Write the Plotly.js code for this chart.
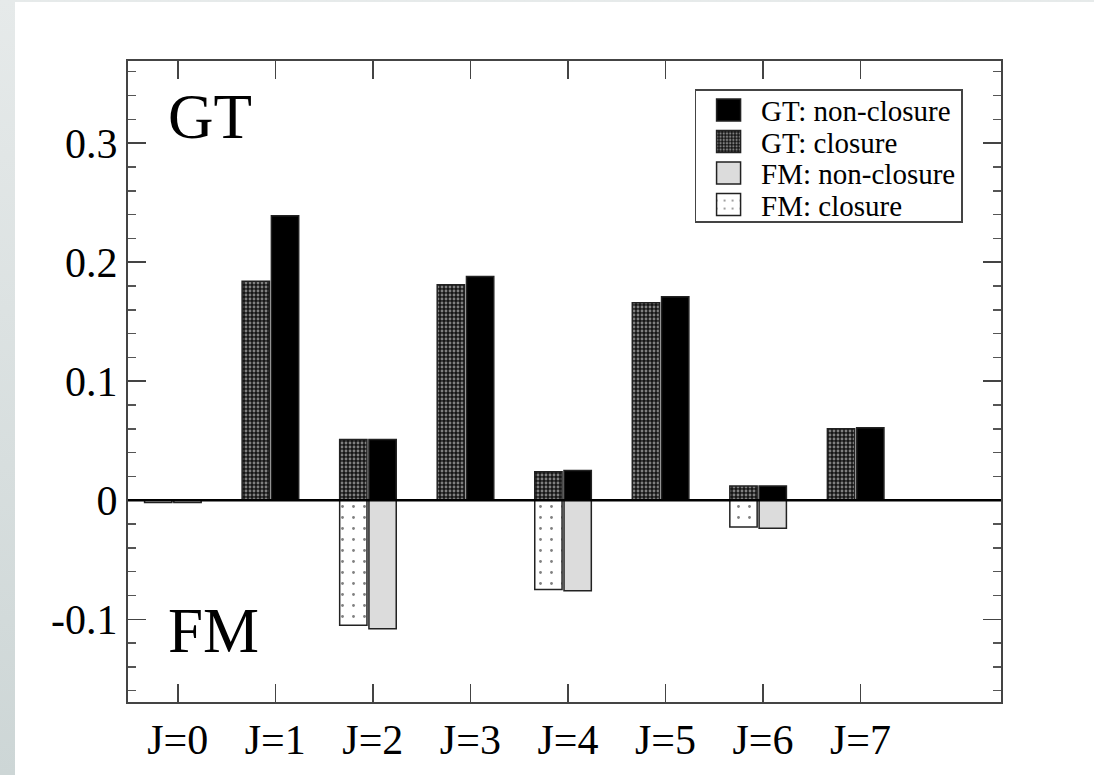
<!DOCTYPE html>
<html>
<head>
<meta charset="utf-8">
<script src="https://cdn.plot.ly/plotly-3.0.1.min.js"></script>
<style>
  html, body { margin: 0; padding: 0; width: 1094px; height: 775px; overflow: hidden;
    background: linear-gradient(to bottom, #e6eaea, #cdd6d6); }
  #chart { position: absolute; left: 15px; top: 2px; width: 1079px; height: 773px; background: #fff; }
</style>
</head>
<body>
<div id="chart"></div>
<script>
const J = [0, 1, 2, 3, 4, 5, 6, 7];
const tickLabels = ["J=0", "J=1", "J=2", "J=3", "J=4", "J=5", "J=6", "J=7"];
const gtNonClosure = [0, 0.239, 0.051, 0.188, 0.025, 0.171, 0.012, 0.061];
const gtClosure    = [0, 0.184, 0.051, 0.181, 0.024, 0.166, 0.012, 0.060];
const fmNonClosure = [-0.002, 0, -0.108, 0, -0.076, 0, -0.0235, 0];
const fmClosure    = [-0.002, 0, -0.105, 0, -0.075, 0, -0.0225, 0];
const yTickVals = [-0.1, 0, 0.1, 0.2, 0.3];
const yTickText = ["-0.1", "0", "0.1", "0.2", "0.3"];

const serif = '"Liberation Serif", "Times New Roman", Times, serif';
const outline = { color: '#222', width: 1.5 };
const W = 0.28;

const traces = [
  { type: 'bar', name: 'GT: non-closure', x: J, y: gtNonClosure, width: W, offset: -0.04,
    marker: { color: '#000', line: outline } },
  { type: 'bar', name: 'GT: closure', x: J, y: gtClosure, width: W, offset: -0.34,
    marker: { color: '#222', line: outline,
      pattern: { shape: '.', bgcolor: '#161616', fgcolor: '#808080', size: 4, solidity: 0.4, fillmode: 'replace' } } },
  { type: 'bar', name: 'FM: non-closure', x: J, y: fmNonClosure, width: W, offset: -0.04,
    marker: { color: '#dcdcdc', line: outline } },
  { type: 'bar', name: 'FM: closure', x: J, y: fmClosure, width: W, offset: -0.34,
    marker: { color: '#fff', line: outline,
      pattern: { shape: '.', bgcolor: '#ffffff', fgcolor: '#808080', size: 11, solidity: 0.05, fillmode: 'replace' } } }
];

const axisCommon = {
  showline: true, linecolor: '#444', linewidth: 2, mirror: 'allticks',
  ticks: 'inside', tickcolor: '#444', tickwidth: 1.5, ticklen: 18,
  showgrid: false, zeroline: false,
  tickfont: { family: serif, size: 42, color: '#000' }
};

const layout = {
  width: 1079, height: 773,
  margin: { l: 113, r: 93, t: 59, b: 73 },
  paper_bgcolor: '#fff', plot_bgcolor: '#fff',
  barmode: 'overlay',
  showlegend: true,
  legend: {
    x: 0.649, y: 0.956, xanchor: 'left', yanchor: 'top',
    bgcolor: '#fff', bordercolor: '#444', borderwidth: 1.5,
    font: { family: serif, size: 29, color: '#000' },
    traceorder: 'normal', itemwidth: 55
  },
  xaxis: Object.assign({}, axisCommon, {
    range: [-0.51, 8.44], tickvals: J, ticktext: tickLabels
  }),
  yaxis: Object.assign({}, axisCommon, {
    range: [-0.1695, 0.369], tickvals: yTickVals, ticktext: yTickText,
    minor: { dtick: 0.02, ticks: 'inside', ticklen: 8, tickcolor: '#555', tickwidth: 1.5 }
  }),
  shapes: [
    { type: 'line', xref: 'paper', x0: 0, x1: 1, yref: 'y', y0: 0, y1: 0,
      line: { color: '#000', width: 2.5 }, layer: 'above' }
  ],
  annotations: [
    { xref: 'paper', yref: 'paper', x: 0.044, y: 0.912, xanchor: 'left', yanchor: 'middle',
      text: 'GT', showarrow: false, font: { family: serif, size: 63, color: '#000' } },
    { xref: 'paper', yref: 'paper', x: 0.044, y: 0.11, xanchor: 'left', yanchor: 'middle',
      text: 'FM', showarrow: false, font: { family: serif, size: 63, color: '#000' } }
  ]
};

Plotly.newPlot('chart', traces, layout, { displayModeBar: false, staticPlot: true }).then(function (gd) {
  // Tighten legend rows and enlarge the legend swatches to match the reference style.
  const legend = gd.querySelector('.legend');
  if (!legend) return;
  const items = Array.from(legend.querySelectorAll('.traces'));
  if (items.length < 2) return;
  const ys = items.map(function (g) {
    const m = /translate\(\s*([-\d.]+)[ ,]+([-\d.]+)\s*\)/.exec(g.getAttribute('transform') || '');
    return m ? [parseFloat(m[1]), parseFloat(m[2])] : [0, 0];
  });
  const newStep = 31.5;
  const y0 = ys[0][1] - 6;
  items.forEach(function (g, i) {
    g.setAttribute('transform', 'translate(' + ys[i][0] + ',' + (y0 + i * newStep) + ')');
    g.querySelectorAll('.legendpoints path').forEach(function (p) {
      p.setAttribute('d', 'M12,11H-12V-11H12Z');
    });
  });
  const bg = legend.querySelector('rect.bg');
  if (bg) {
    bg.setAttribute('height', 132);
  }
});
</script>
</body>
</html>
